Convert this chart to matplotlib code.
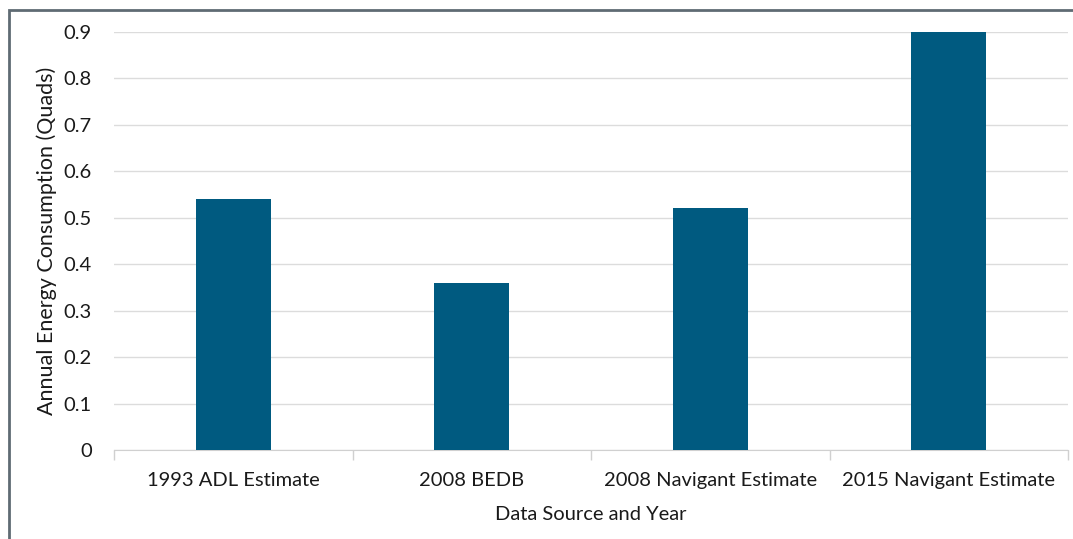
import matplotlib
matplotlib.use("Agg")
import matplotlib.pyplot as plt
from matplotlib.patches import Rectangle
import numpy as np

categories = ["1993 ADL Estimate", "2008 BEDB", "2008 Navigant Estimate", "2015 Navigant Estimate"]
values = [0.54, 0.36, 0.52, 0.90]
yticks = [0, 0.1, 0.2, 0.3, 0.4, 0.5, 0.6, 0.7, 0.8, 0.9]
ytick_labels = ["0", "0.1", "0.2", "0.3", "0.4", "0.5", "0.6", "0.7", "0.8", "0.9"]

plt.rcParams["font.family"] = ["Lato", "DejaVu Sans"]
FS = 14.5
TXT = "#1a1a1a"

W, H = 1073, 539
fig = plt.figure(figsize=(W / 100, H / 100), dpi=100)
ax = fig.add_axes([114 / W, 1 - 450 / H, (1068 - 114) / W, (450 - 32) / H])

x = np.arange(len(categories))
ax.bar(x, values, width=0.315, color="#005a80", zorder=3)

ax.set_xlim(-0.5, len(categories) - 0.5)
ax.set_ylim(0, 0.9)
ax.set_yticks(yticks)
ax.set_yticklabels(ytick_labels, fontsize=FS, color=TXT)
ax.set_xticks(x)
ax.set_xticklabels(categories, fontsize=FS, color=TXT)
ax.tick_params(axis="y", length=0, pad=16)
ax.tick_params(axis="x", length=0, pad=16)

# category boundary ticks below the axis line
ax.set_xticks(np.arange(-0.5, len(categories)), minor=True)
ax.tick_params(axis="x", which="minor", length=7, color="#d0d0d0", width=1)

ax.grid(axis="y", color="#dcdcdc", linewidth=1, zorder=0)
for side in ["top", "right", "left"]:
    ax.spines[side].set_visible(False)
ax.spines["bottom"].set_color("#d0d0d0")

ax.set_ylabel("Annual Energy Consumption (Quads)", fontsize=15.5, color=TXT, labelpad=5)
ax.set_xlabel("Data Source and Year", fontsize=FS, color=TXT, labelpad=12)

# outer frame of the chart area
fig.patches.append(Rectangle((9 / W, -0.1), 1.2, 1 - 10 / H + 0.1, transform=fig.transFigure,
                             fill=False, edgecolor="#5f6b73", linewidth=2))

fig.savefig("out.png", dpi=100)
